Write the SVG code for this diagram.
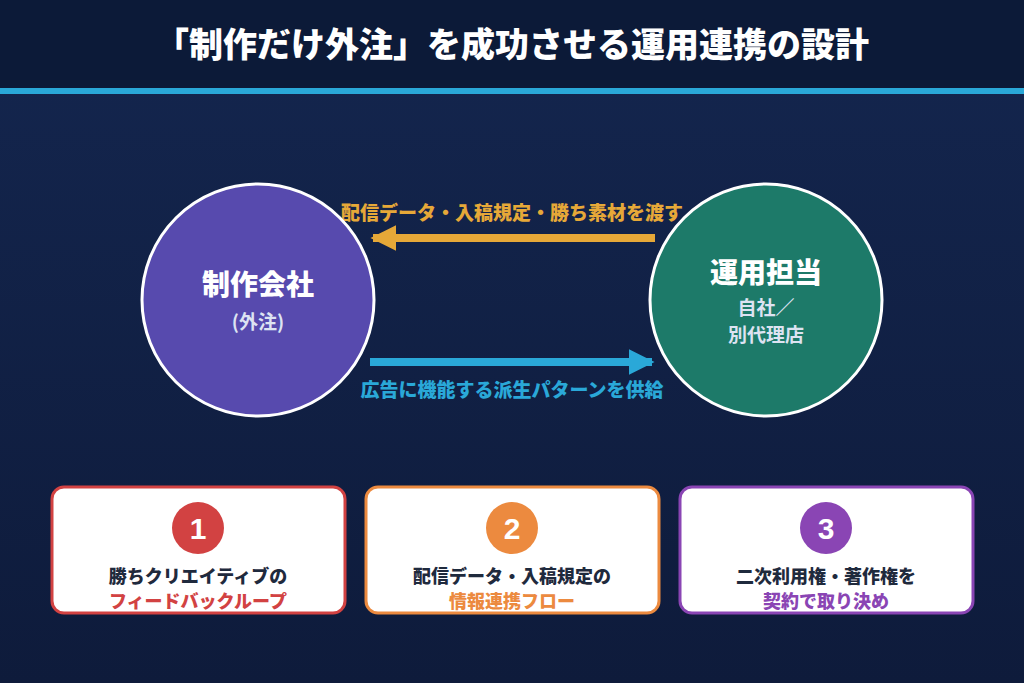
<svg xmlns="http://www.w3.org/2000/svg" width="1024" height="683" viewBox="0 0 1024 683">
<defs>
<linearGradient id="bg" x1="0" y1="0" x2="0" y2="1">
<stop offset="0" stop-color="#14264f"/>
<stop offset="1" stop-color="#0e1b3b"/>
</linearGradient>
<marker id="ahO" viewBox="0 0 10 10" refX="9" refY="5" markerWidth="3.2" markerHeight="3.2" orient="auto" markerUnits="strokeWidth">
<path d="M0,0 L10,5 L0,10 Z" fill="#e6a838"/>
</marker>
<marker id="ahB" viewBox="0 0 10 10" refX="9" refY="5" markerWidth="3.2" markerHeight="3.2" orient="auto" markerUnits="strokeWidth">
<path d="M0,0 L10,5 L0,10 Z" fill="#2aa8d8"/>
</marker>
</defs>
<style>
text{font-family:"Noto Sans CJK JP","Noto Sans",sans-serif;font-weight:900;text-anchor:middle}
.title{font-size:34px;fill:#ffffff}
.big{font-size:28px;fill:#ffffff}
.sub{font-size:19px;fill:#dde3f2;font-weight:700}
.lblO{font-size:19px;fill:#e6a838}
.lblB{font-size:19px;fill:#2aa8d8}
.card{fill:#ffffff;stroke-width:3}
.num{font-size:30px;fill:#ffffff;font-family:"Liberation Sans",Arial,sans-serif;font-weight:700}
.l1{font-size:18px;fill:#1f2a3d}
.l2{font-size:18px}
</style>
<rect width="1024" height="683" fill="url(#bg)"/>
<rect width="1024" height="88" fill="#0c1a38"/>
<rect y="88" width="1024" height="6" fill="#2aa8d8"/>
<text class="title" x="512" y="57">「制作だけ外注」を成功させる運用連携の設計</text>

<g id="connectors">
<line x1="655" y1="238" x2="373" y2="238" stroke="#e6a838" stroke-width="8" marker-end="url(#ahO)"/>
<text class="lblO" x="512" y="220">配信データ・入稿規定・勝ち素材を渡す</text>
<line x1="370" y1="362" x2="652" y2="362" stroke="#2aa8d8" stroke-width="8" marker-end="url(#ahB)"/>
<text class="lblB" x="512" y="397">広告に機能する派生パターンを供給</text>
</g>

<g id="node-production">
<circle cx="258" cy="300" r="116" fill="#574aae" stroke="#ffffff" stroke-width="3"/>
<text class="big" x="258" y="295">制作会社</text>
<text class="sub" x="258" y="329">(外注)</text>
</g>

<g id="node-operation">
<circle cx="766" cy="300" r="116" fill="#1d7a69" stroke="#ffffff" stroke-width="3"/>
<text class="big" x="766" y="283">運用担当</text>
<text class="sub" x="766" y="315">自社／</text>
<text class="sub" x="766" y="342">別代理店</text>
</g>

<g id="card1">
<rect class="card" x="52" y="487" width="293" height="126" rx="12" stroke="#d24242"/>
<circle cx="198" cy="528" r="26" fill="#d24242"/>
<text class="num" x="198" y="539">1</text>
<text class="l1" x="198" y="583">勝ちクリエイティブの</text>
<text class="l2" x="198" y="608" fill="#d24242">フィードバックループ</text>
</g>

<g id="card2">
<rect class="card" x="366" y="487" width="293" height="126" rx="12" stroke="#ec8a3f"/>
<circle cx="512" cy="528" r="26" fill="#ec8a3f"/>
<text class="num" x="512" y="539">2</text>
<text class="l1" x="512" y="583">配信データ・入稿規定の</text>
<text class="l2" x="512" y="608" fill="#ec8a3f">情報連携フロー</text>
</g>

<g id="card3">
<rect class="card" x="680" y="487" width="293" height="126" rx="12" stroke="#8a45b4"/>
<circle cx="826" cy="528" r="26" fill="#8a45b4"/>
<text class="num" x="826" y="539">3</text>
<text class="l1" x="826" y="583">二次利用権・著作権を</text>
<text class="l2" x="826" y="608" fill="#8a45b4">契約で取り決め</text>
</g>
</svg>
